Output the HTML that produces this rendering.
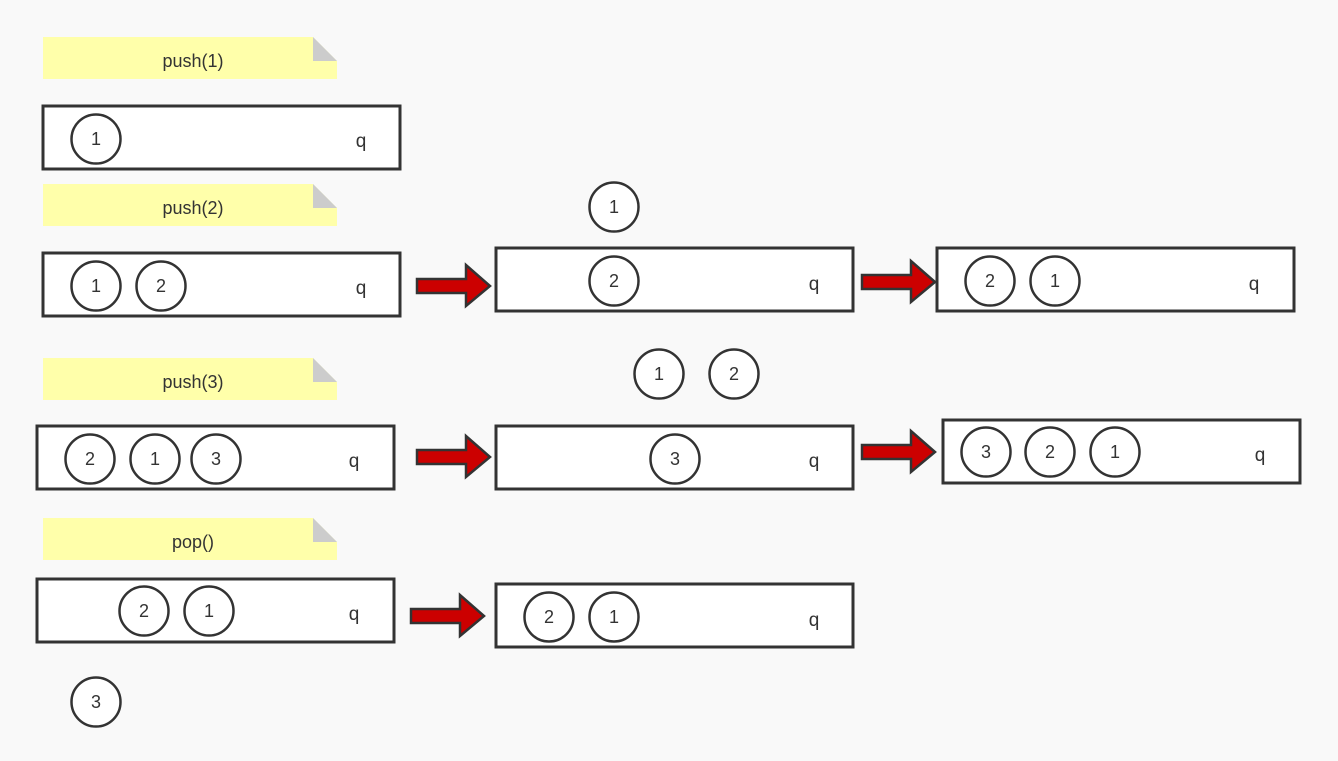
<!DOCTYPE html>
<html><head><meta charset="utf-8"><style>
html,body{margin:0;padding:0;background:#f9f9f9}
svg{display:block;font-family:"Liberation Sans",sans-serif}
</style></head><body>
<svg id="d" width="1338" height="761" viewBox="0 0 1338 761"></svg>
<script>
const NS="http://www.w3.org/2000/svg";
const svg=document.getElementById('d');
const notes=[["push(1)",37],["push(2)",184],["push(3)",358],["pop()",518]];
const boxes=[[43,106],[43,253],[496,248],[937,248],[37,426],[496,426],[943,420],[37,579],[496,584]];
const qlabels=[[361,141],[361,288],[814,284],[1254,284],[354,461],[814,461],[1260,455],[354,614],[814,620]];
const circles=[[96,139,"1"],[96,286,"1"],[161,286,"2"],[614,207,"1"],[614,281,"2"],[990,281,"2"],[1055,281,"1"],[659,374,"1"],[734,374,"2"],[90,459,"2"],[155,459,"1"],[216,459,"3"],[675,459,"3"],[986,452,"3"],[1050,452,"2"],[1115,452,"1"],[144,611,"2"],[209,611,"1"],[549,617,"2"],[614,617,"1"],[96,702,"3"]];
const arrows=[[417,286],[862,282],[417,457],[862,452],[411,616]];
function mk(t,a,txt){const e=document.createElementNS(NS,t);for(const k in a)e.setAttribute(k,a[k]);if(txt!==undefined)e.textContent=txt;svg.appendChild(e);return e;}
notes.forEach(([t,y])=>{
 const p=mk('path',{d:`M43 ${y}H313L337 ${y+24}V${y+42}H43Z`,fill:'#ffffaa'});
 
 
 mk('path',{d:`M313 ${y}L337 ${y+24}H313Z`,fill:'#cccccc'});
 const tx=mk('text',{x:193,y:y+30,'text-anchor':'middle','font-size':18,fill:'#333'},t);
 
 
});
boxes.forEach(([x,y])=>{
 const r=mk('rect',{x:x,y:y,width:357,height:63,fill:'#fff',stroke:'#333','stroke-width':3});
 
 
});
qlabels.forEach(([x,y])=>{
 const t=mk('text',{x:x,y:y+6,'text-anchor':'middle','font-size':19,fill:'#333'},'q');
 
 
});
circles.forEach(([x,y,v])=>{
 const c=mk('circle',{cx:x,cy:y,r:24.5,fill:'#fff',stroke:'#333','stroke-width':2.5});
 
 
 const t=mk('text',{x:x,y:y+6,'text-anchor':'middle','font-size':18,fill:'#333'},v);
 
 
});
arrows.forEach(([x,y])=>{
 const a=mk('path',{d:`M${x} ${y-7}H${x+49}V${y-21}L${x+73} ${y}L${x+49} ${y+20}V${y+7}H${x}Z`,fill:'#cc0000',stroke:'#333','stroke-width':2.5,'stroke-linejoin':'miter'});
 
 
});
</script>
</body></html>
